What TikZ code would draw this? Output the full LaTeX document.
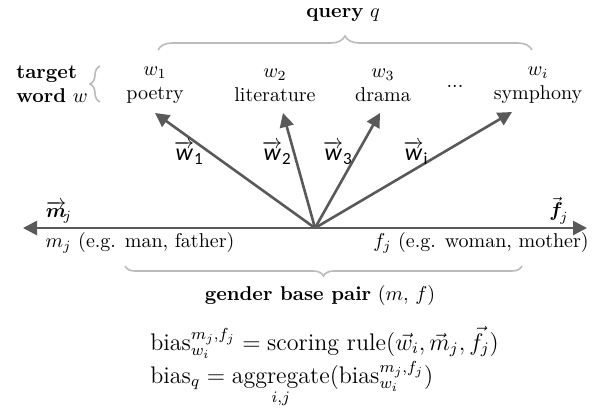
\documentclass[tikz,border=0pt]{standalone}
\usepackage{amsmath}
\usepackage{fontspec}
\newfontfamily\carl{Carlito}
\usetikzlibrary{arrows.meta,decorations.pathreplacing}
\definecolor{vecgray}{HTML}{595959}
\definecolor{bracegray}{HTML}{BBBBBB}
\tikzset{
    vec/.style={draw=vecgray, line width=1.3pt, -{Triangle[length=7pt, width=7pt]}},
    gbrace/.style={draw=bracegray, line width=0.8pt, decorate, decoration={brace, amplitude=#1}},
    gbrace/.default=5pt,
    word/.style={align=center, inner sep=1pt},
    veclabel/.style={inner sep=0pt},
}
\newcommand{\cvec}[2]{$\overrightarrow{\mbox{\fontsize{12}{12}\carl\itshape #1}}_{\mbox{\fontsize{8.5}{9}\carl #2}}$}
\begin{document}
\begin{tikzpicture}[x=0.5pt, y=-0.5pt]
    \useasboundingbox (0, 0) rectangle (594, 414);

    % the query words
    \node[word] (q1) at (155, 85) {$w_1$\\poetry};
    \node[word] (q2) at (275, 85) {$w_2$\\literature};
    \node[word] (q3) at (383, 85) {$w_3$\\drama};
    \node (dots) at (455, 86) {...};
    \node[word] (qi) at (538, 85) {$w_i$\\symphony};
    \node[align=left, inner sep=1pt] (target) at (52, 84) {\textbf{target}\\\textbf{word} $w$};
    \draw[gbrace] (100, 102) -- (100, 66);

    \coordinate (qbl) at (158, 50);
    \coordinate (qbr) at (532, 50);
    \draw[gbrace=7pt] (qbl) -- (qbr);
    \node (query) at (343, 15) {\textbf{query} $q$};

    % vectors
    \coordinate (o) at (315, 228);
    \coordinate (t1) at (155, 113);
    \coordinate (t2) at (283, 113);
    \coordinate (t3) at (380, 113);
    \coordinate (ti) at (512, 112);
    \coordinate (mtip) at (23, 228);
    \coordinate (ftip) at (587, 228);

    \draw[vec] (o) -- (t1);
    \draw[vec] (o) -- (t2);
    \draw[vec] (o) -- (t3);
    \draw[vec] (o) -- (ti);
    \draw[vec] (o) -- (mtip);
    \draw[vec] (o) -- (ftip);

    \node[veclabel] (l1) at (189, 153) {\cvec{w}{1}};
    \node[veclabel] (l2) at (277, 153) {\cvec{w}{2}};
    \node[veclabel] (l3) at (338, 153) {\cvec{w}{3}};
    \node[veclabel] (li) at (416, 153) {\cvec{w}{i}};
    \node[veclabel] (lm) at (59, 212) {$\overrightarrow{\boldsymbol{m}}_{\!j}$};
    \node[veclabel] (lf) at (559, 211) {$\vec{\boldsymbol{f}}_{\!j}$};

    \node (mword) at (140, 243) {$m_j$ (e.g. man, father)};
    \node (fword) at (481, 243) {$f_j$ (e.g. woman, mother)};

    % gender pair
    \draw[gbrace] (522, 266) -- (125, 266);
    \node (pair) at (320, 295) {\textbf{gender base pair} $(m,\,f)$};

    % formulas
    \node[anchor=base west, inner sep=0pt, font=\large] (f1) at (150, 350)
        {$\mathrm{bias}^{m_j,f_j}_{w_i} = \text{scoring rule}(\vec{w}_i, \vec{m}_j, \vec{f}_j)$};
    \node[anchor=base west, inner sep=0pt, font=\large] (f2) at (150, 383)
        {$\displaystyle \mathrm{bias}_q = \operatorname*{aggregate}_{i,j}(\mathrm{bias}^{m_j,f_j}_{w_i})$};
\end{tikzpicture}
\end{document}
